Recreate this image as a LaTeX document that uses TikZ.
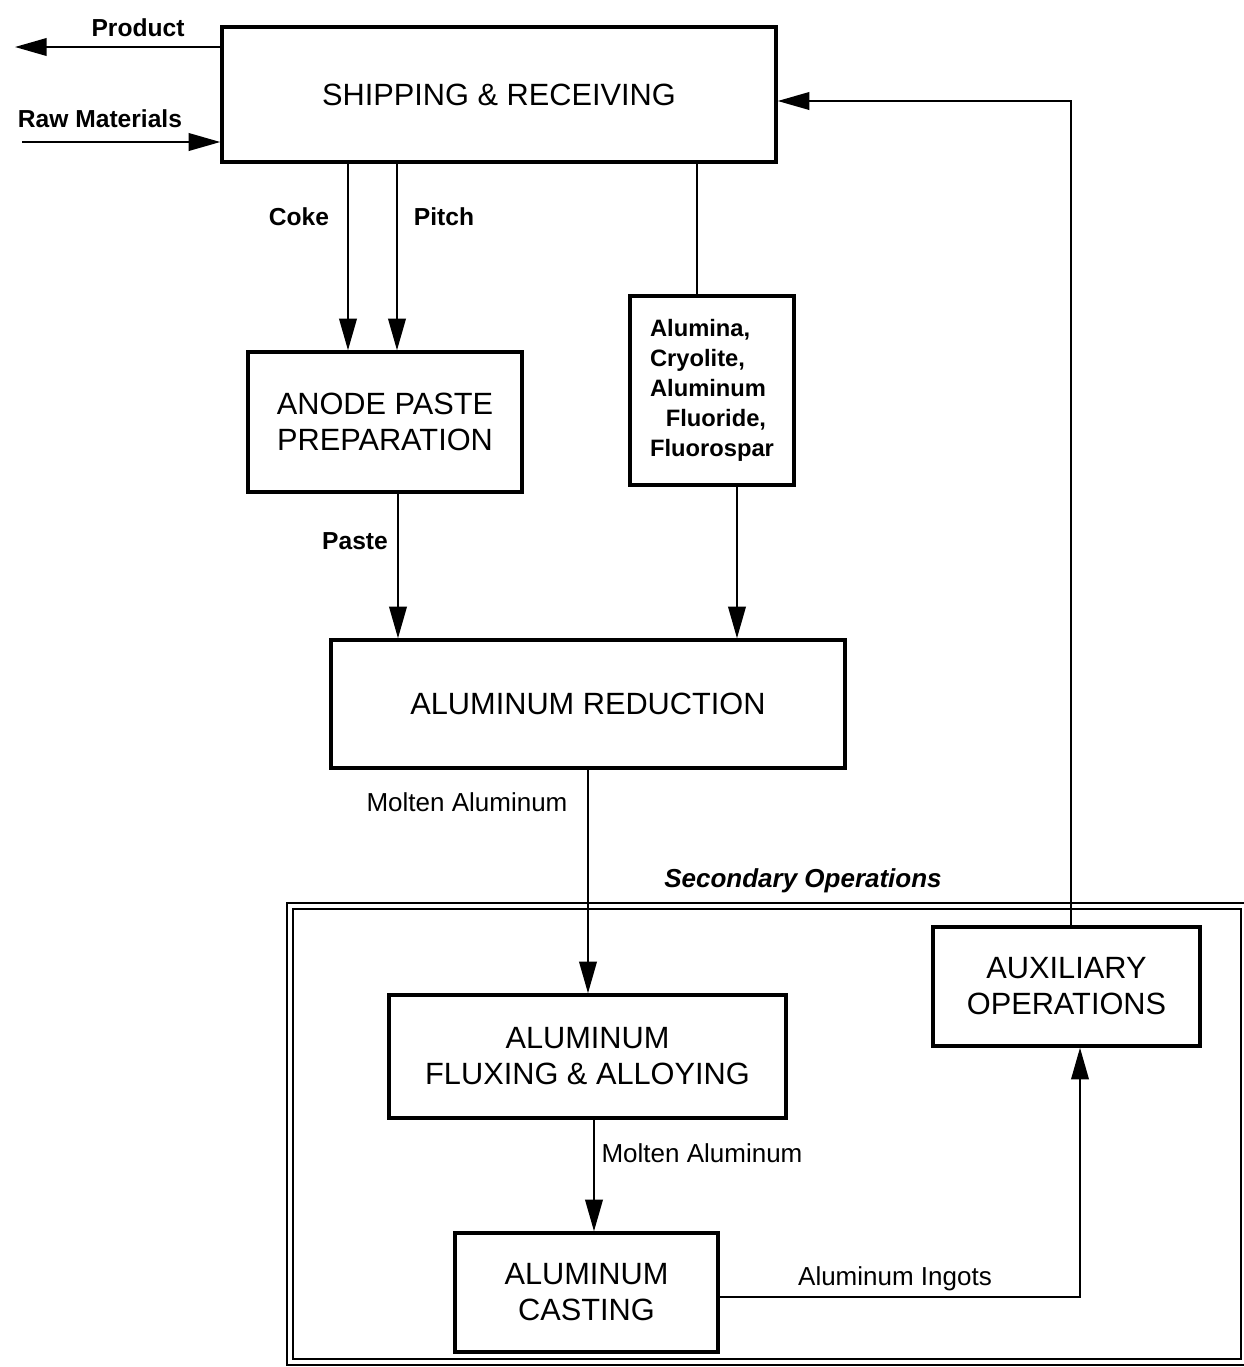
\documentclass[tikz,border=0pt]{standalone}
\usepackage{fontspec}
\setmainfont{Liberation Sans}
\usepackage{tikz}
\usetikzlibrary{arrows.meta,positioning}

\tikzset{
  box/.style={draw, line width=2pt, align=center,
    font=\fontsize{17.5}{20.5}\selectfont, inner sep=0pt},
  flow/.style={line width=1.1pt, -{Triangle[length=18pt,width=10pt]}},
  link/.style={line width=1.1pt},
  tag/.style={font=\bfseries\fontsize{14}{16}\selectfont, inner sep=1pt},
  thin tag/.style={font=\fontsize{14.8}{17}\selectfont, inner sep=1pt}
}

\begin{document}
\begin{tikzpicture}[x=0.02cm, y=-0.02cm]
\useasboundingbox (0,0) rectangle (1244,1367);

%secondary frame
\node[draw, double, line width=0.9pt, double distance=2.6pt,
  minimum width=19.08cm, minimum height=9.12cm] (secondary) at (767,1134) {};
\node[font=\bfseries\itshape\fontsize{14.8}{17}\selectfont] (sectitle) at (803,881) {Secondary Operations};

%boxes
\node[box, minimum width=11.08cm, minimum height=2.7cm] (ship) at (499,94.5) {SHIPPING \& RECEIVING};
\node[box, minimum width=5.48cm, minimum height=2.8cm] (anode) at (385,422) {ANODE PASTE\\PREPARATION};
\node[box, minimum width=3.28cm, minimum height=3.78cm, align=left,
  font=\bfseries\fontsize{13.5}{17}\selectfont] (chem) at (712,390.5)
  {Alumina,\\Cryolite,\\Aluminum\\\hspace*{9pt}Fluoride,\\Fluorospar};
\node[box, minimum width=10.28cm, minimum height=2.56cm] (reduct) at (588,704) {ALUMINUM REDUCTION};
\node[box, minimum width=7.94cm, minimum height=2.46cm] (flux) at (587.5,1056.5) {ALUMINUM\\FLUXING \& ALLOYING};
\node[box, minimum width=5.26cm, minimum height=2.38cm] (cast) at (586.5,1292.5) {ALUMINUM\\CASTING};
\node[box, minimum width=5.34cm, minimum height=2.38cm] (aux) at (1066.5,986.5) {AUXILIARY\\OPERATIONS};

%free ends and columns
\coordinate (prodend) at (15,47);
\coordinate (rawstart) at (22,142);
\coordinate (cokex) at (348,0);
\coordinate (pitchx) at (397,0);
\coordinate (chemx) at (697,0);
\coordinate (chemoutx) at (737,0);
\coordinate (pastex) at (398,0);
\coordinate (moltenx) at (588,0);
\coordinate (castinx) at (594,0);
\coordinate (ingoty) at (0,1297);
\coordinate (auxx) at (1080,0);
\coordinate (returnx) at (1071,0);
\coordinate (returny) at (0,101);

%connectors
\draw[flow] (ship.west |- prodend) -- (prodend);
\draw[flow] (rawstart) -- (ship.west |- rawstart);
\draw[flow] (ship.south -| cokex) -- (anode.north -| cokex);
\draw[flow] (ship.south -| pitchx) -- (anode.north -| pitchx);
\draw[link] (ship.south -| chemx) -- (chem.north -| chemx);
\draw[flow] (chem.south -| chemoutx) -- (reduct.north -| chemoutx);
\draw[flow] (anode.south -| pastex) -- (reduct.north -| pastex);
\draw[flow] (reduct.south -| moltenx) -- (flux.north -| moltenx);
\draw[flow] (flux.south -| castinx) -- (cast.north -| castinx);
\draw[flow] (cast.east |- ingoty) -| (aux.south -| auxx);
\draw[flow] (aux.north -| returnx) |- (ship.east |- returny);

%labels
\node[tag] (prodlab) at (138,28) {Product};
\node[tag] (rawlab) at (100,119) {Raw Materials};
\node[tag] (cokelab) at (299,217) {Coke};
\node[tag] (pitchlab) at (444,217) {Pitch};
\node[tag] (pastelab) at (355,541) {Paste};
\node[thin tag] (molten1) at (467,802) {Molten Aluminum};
\node[thin tag] (molten2) at (702,1153) {Molten Aluminum};
\node[thin tag] (ingotlab) at (895,1279) {Aluminum Ingots};

\end{tikzpicture}
\end{document}
